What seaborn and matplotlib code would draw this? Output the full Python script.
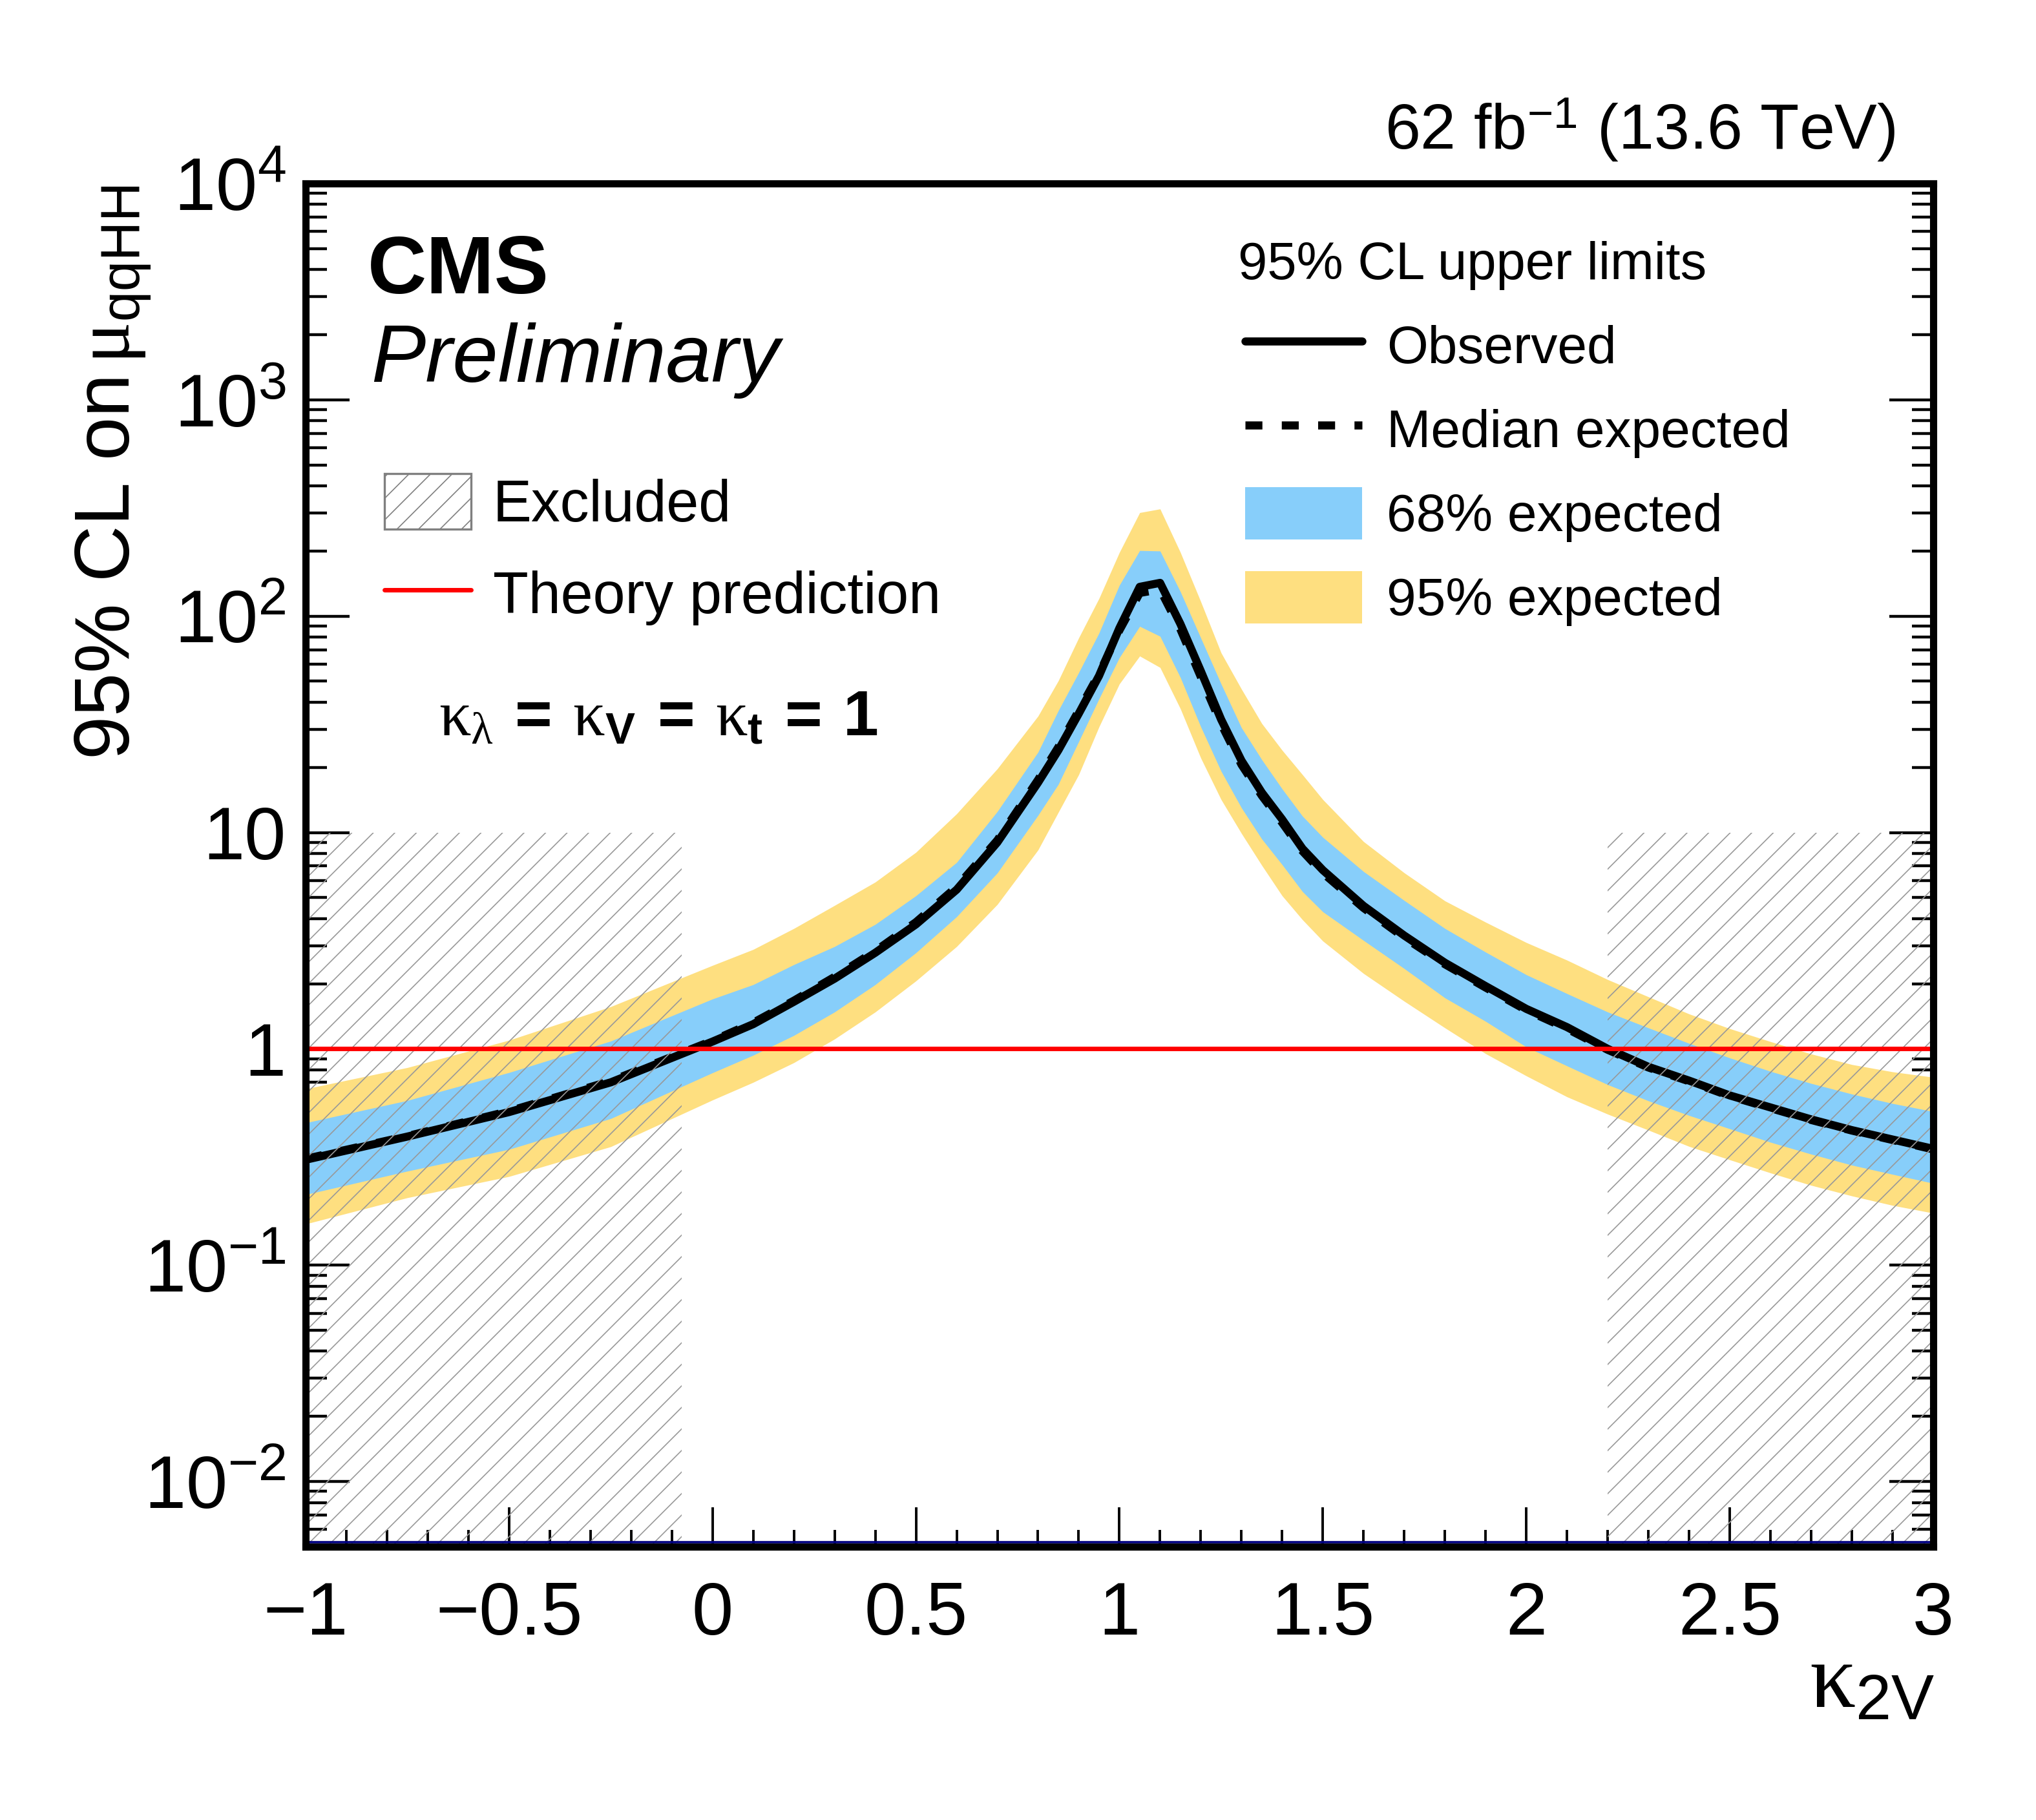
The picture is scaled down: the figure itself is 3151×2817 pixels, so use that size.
import matplotlib
matplotlib.use('Agg')
import matplotlib.pyplot as plt
import matplotlib.patches as mpatches
import matplotlib.lines as mlines
from matplotlib.ticker import FixedLocator, FixedFormatter, MultipleLocator, LogLocator, NullFormatter
import seaborn as sns

# scan points in kappa_2V
kappa_2v = [-1.0, -0.75, -0.5, -0.25, 0.0, 0.1, 0.2, 0.3, 0.4, 0.5, 0.6, 0.7,
            0.8, 0.85, 0.9, 0.95, 1.0, 1.05, 1.1, 1.15, 1.2, 1.25, 1.3, 1.35,
            1.4, 1.45, 1.5, 1.6, 1.7, 1.8, 1.9, 2.0, 2.1, 2.2, 2.3, 2.4, 2.5,
            2.6, 2.7, 2.8, 2.9, 3.0]

# 95% CL upper limits on mu_qqHH
obs_limit = [0.307, 0.393, 0.51, 0.70, 1.08, 1.30, 1.65, 2.11, 2.78, 3.76, 5.44, 9.0,
             17.0, 24.0, 35.4, 53.0, 88.0, 136.6, 142.5, 92.0, 55.8, 33.3, 21.5, 15.3,
             11.5, 8.42, 6.7, 4.58, 3.34, 2.5, 1.95, 1.53, 1.26, 1.0, 0.826, 0.713, 0.609,
             0.536, 0.472, 0.421, 0.381, 0.345]
exp_limit = [0.31, 0.395, 0.515, 0.71, 1.09, 1.32, 1.67, 2.15, 2.83, 3.85, 5.6, 9.2,
             17.5, 24.8, 36.5, 54.0, 86.0, 128.0, 133.0, 87.0, 52.5, 31.8, 20.6, 14.8,
             11.1, 8.2, 6.5, 4.48, 3.27, 2.46, 1.92, 1.51, 1.24, 0.99, 0.82, 0.708, 0.605,
             0.532, 0.469, 0.419, 0.379, 0.343]
band68_lo = [0.212, 0.272, 0.343, 0.476, 0.775, 0.934, 1.153, 1.48, 1.98, 2.78, 4.08, 6.5,
             12.0, 16.7, 26.3, 41.5, 64.3, 89.7, 80.7, 52.0, 30.8, 19.2, 13.0, 9.33,
             7.1, 5.33, 4.3, 3.17, 2.35, 1.72, 1.34, 1.02, 0.834, 0.683, 0.575, 0.492, 0.427,
             0.37, 0.326, 0.29, 0.263, 0.239]
band68_hi = [0.455, 0.577, 0.777, 1.086, 1.70, 1.98, 2.45, 2.97, 3.76, 5.1, 7.27, 12.5,
             23.5, 36.6, 54.8, 83.6, 139.0, 201.0, 200.0, 129.6, 79.3, 48.6, 30.5, 21.7,
             15.9, 11.9, 9.5, 6.6, 4.85, 3.6, 2.8, 2.2, 1.80, 1.48, 1.25, 1.06, 0.908,
             0.787, 0.692, 0.618, 0.559, 0.513]
band95_lo = [0.155, 0.205, 0.257, 0.353, 0.58, 0.70, 0.863, 1.11, 1.48, 2.06, 2.97, 4.65,
             8.3, 12.4, 18.5, 30.8, 48.6, 65.4, 57.9, 37.3, 22.1, 14.2, 9.9, 7.05,
             5.1, 3.95, 3.15, 2.23, 1.66, 1.25, 0.95, 0.75, 0.60, 0.499, 0.421, 0.354, 0.307,
             0.267, 0.234, 0.209, 0.189, 0.174]
band95_hi = [0.653, 0.819, 1.096, 1.567, 2.43, 2.88, 3.6, 4.6, 5.9, 8.1, 12.2, 19.7,
             34.5, 50.3, 79.3, 120.8, 197.0, 301.0, 313.0, 197.0, 116.7, 67.7, 46.0, 31.9,
             24.0, 18.5, 14.2, 9.08, 6.51, 4.83, 3.85, 3.1, 2.57, 2.09, 1.74, 1.45, 1.24,
             1.08, 0.947, 0.846, 0.783, 0.739]

theory_value = 1.0
excluded_ranges = [(-1.0, -0.075), (2.2, 3.0)]
excluded_top = 10.0
y_min, y_max = 0.005, 1e4
floor_level = 0.00524

xtick_pos = [-1, -0.5, 0, 0.5, 1, 1.5, 2, 2.5, 3]
xtick_labels = ['\u22121', '\u22120.5', '0', '0.5', '1', '1.5', '2', '2.5', '3']
ytick_pos = [1e-2, 1e-1, 1, 10, 1e2, 1e3, 1e4]
ytick_labels = [r'$\mathregular{10^{-2}}$', r'$\mathregular{10^{-1}}$', '1', '10',
                r'$\mathregular{10^{2}}$', r'$\mathregular{10^{3}}$', r'$\mathregular{10^{4}}$']

blue = '#87cefa'
yellow = '#fedf80'
hatch_gray = '#999999'

sns.set_style('ticks')
plt.rcParams['font.family'] = ['Liberation Sans', 'DejaVu Sans']
plt.rcParams['mathtext.fontset'] = 'custom'
plt.rcParams['mathtext.rm'] = 'Liberation Sans'
plt.rcParams['mathtext.it'] = 'Liberation Serif'
plt.rcParams['mathtext.bf'] = 'Liberation Sans:bold'
plt.rcParams['text.color'] = 'black'
plt.rcParams['xtick.color'] = 'black'
plt.rcParams['ytick.color'] = 'black'
plt.rcParams['hatch.linewidth'] = 0.6

fig = plt.figure(figsize=(3151 / 200, 2817 / 200), dpi=200)
ax = fig.add_axes([0.1501, 0.1502, 0.7994, 0.7490])

# bands
ax.fill_between(kappa_2v, band95_lo, band95_hi, color=yellow, lw=0, zorder=1)
ax.fill_between(kappa_2v, band68_lo, band68_hi, color=blue, lw=0, zorder=1.1)

# limits
sns.lineplot(x=kappa_2v, y=exp_limit, ax=ax, color='black', lw=4.5,
             linestyle=(0, (2.1, 2.4)), zorder=2)
sns.lineplot(x=kappa_2v, y=obs_limit, ax=ax, color='black', lw=4.5, zorder=2.1)

# excluded regions
for x0, x1 in excluded_ranges:
    ax.fill_between([x0, x1], y_min, excluded_top, facecolor='none',
                    edgecolor=hatch_gray, hatch='//', lw=0, zorder=2.2)

ax.axhline(floor_level, color='#000080', lw=1.3, zorder=2.3)
ax.axhline(theory_value, color='red', lw=2.5, zorder=2.4)

ax.set_xlim(-1, 3)
ax.set_yscale('log')
ax.set_ylim(y_min, y_max)
ax.set_xlabel('')
ax.set_ylabel('')

ax.xaxis.set_major_locator(FixedLocator(xtick_pos))
ax.xaxis.set_major_formatter(FixedFormatter(xtick_labels))
ax.xaxis.set_minor_locator(MultipleLocator(0.1))
ax.yaxis.set_major_locator(FixedLocator(ytick_pos))
ax.yaxis.set_major_formatter(FixedFormatter(ytick_labels))
ax.yaxis.set_minor_locator(LogLocator(base=10, subs=range(2, 10), numticks=30))
ax.yaxis.set_minor_formatter(NullFormatter())

ax.tick_params(axis='x', which='both', direction='in', top=False, bottom=True,
               labelsize=41.5, pad=19)
ax.tick_params(axis='x', which='major', length=22, width=1.4)
ax.tick_params(axis='x', which='minor', length=9.4, width=1.4)
ax.tick_params(axis='y', which='both', direction='in', left=True, right=True,
               labelsize=41.5, pad=11)
ax.tick_params(axis='y', which='major', length=24.5, width=1.6)
ax.tick_params(axis='y', which='minor', length=12, width=1.6)

for s in ax.spines.values():
    s.set_linewidth(4)
    s.set_color('black')
    s.set_zorder(3)

# texts
fig.text(2933 / 3151, 1 - 231 / 2817, r'62 fb$^{\mathregular{-1}}$ (13.6 TeV)',
         ha='right', va='baseline', fontsize=35.5)
fig.text(569 / 3151, 1 - 454 / 2817, 'CMS', ha='left', va='baseline',
         fontsize=45.5, fontweight='bold')
fig.text(574 / 3151, 1 - 591 / 2817, 'Preliminary', ha='left', va='baseline',
         fontsize=45.5, style='italic')
fig.text(679 / 3151, 1 - 1139 / 2817,
         r'$\kappa_{\lambda}\:\mathbf{=}\:\kappa_{\mathbf{V}}\:\mathbf{=}\:\kappa_{\mathbf{t}}\:\mathbf{=\:1}$',
         ha='left', va='baseline', fontsize=35.5)
fig.text(201 / 3151, 1 - 286 / 2817, r'95% CL on$\,\mu_{\mathrm{qqHH}}$',
         rotation=90, rotation_mode='anchor', ha='right', va='baseline', fontsize=43.5)
fig.text(2994 / 3151, 1 - 2642 / 2817, r'$\kappa_{\mathrm{2V}}$',
         ha='right', va='baseline', fontsize=51)
fig.text(1916 / 3151, 1 - 432 / 2817, '95% CL upper limits',
         ha='left', va='baseline', fontsize=29.3)

# legends
excl_handle = mpatches.Patch(facecolor='white', edgecolor='#808080', hatch='//', lw=1.2)
theory_handle = mlines.Line2D([], [], color='red', lw=2.5)
fig.legend(handles=[excl_handle, theory_handle], labels=['Excluded', 'Theory prediction'],
           loc='upper left', bbox_to_anchor=(595 / 3151, 1 - 733 / 2817),
           frameon=False, fontsize=32.3, handlelength=1.49, handleheight=1.1,
           handletextpad=0.38, labelspacing=0.56, borderpad=0, borderaxespad=0)

obs_handle = mlines.Line2D([], [], color='black', lw=4.5)
exp_handle = mlines.Line2D([], [], color='black', lw=4.5, linestyle=(0, (2.1, 2.4)))
b68_handle = mpatches.Patch(color=blue, lw=0)
b95_handle = mpatches.Patch(color=yellow, lw=0)
fig.legend(handles=[obs_handle, exp_handle, b68_handle, b95_handle],
           labels=['Observed', 'Median expected', '68% expected', '95% expected'],
           loc='upper left', bbox_to_anchor=(1927 / 3151, 1 - 494 / 2817),
           frameon=False, fontsize=29.5, handlelength=2.21, handleheight=1.135,
           handletextpad=0.46, labelspacing=0.55, borderpad=0, borderaxespad=0)

fig.savefig('out.png', dpi=200)
